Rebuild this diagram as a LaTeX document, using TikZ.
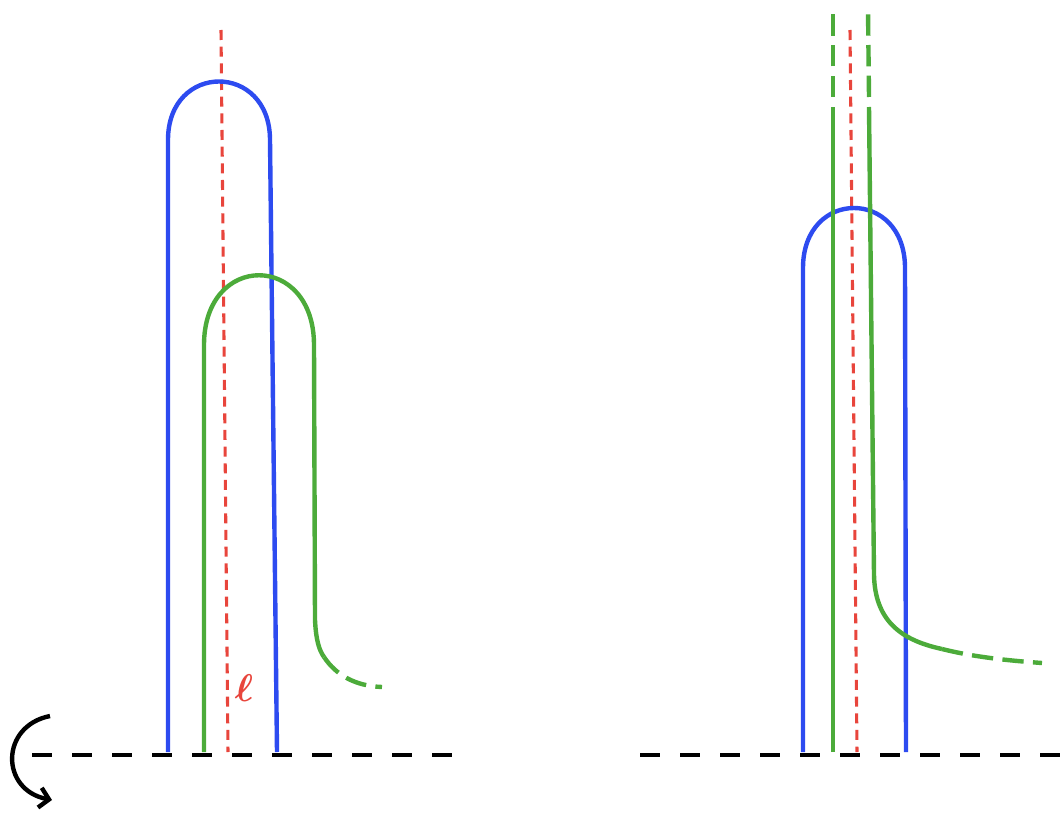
\documentclass[tikz,border=0pt]{standalone}
\usetikzlibrary{arrows.meta}
\definecolor{myblue}{RGB}{45,75,240}
\definecolor{mygreen}{RGB}{76,171,58}
\definecolor{myred}{RGB}{232,69,60}
\begin{document}
\begin{tikzpicture}[x=0.75pt,y=-0.75pt,
  bluel/.style={draw=myblue,line width=3.3pt},
  greenl/.style={draw=mygreen,line width=3.3pt},
  greend/.style={draw=mygreen,line width=3.3pt,dash pattern=on 16pt off 7pt},
  axisl/.style={draw=myred,line width=2.3pt,dash pattern=on 7.5pt off 5pt},
  groundl/.style={draw=black,line width=3.3pt,dash pattern=on 15pt off 15pt}]
\useasboundingbox (0,0) rectangle (1060,813);
% ground lines
\draw[groundl] (32,755) -- (458,755);
\draw[groundl] (640,755) -- (1060,755);
% rotation arrow
\draw[line width=3.3pt,-{Straight Barb[length=7pt,width=15pt,line width=3.3pt]}] (50,716) .. controls (0,726) and (0,790) .. (52,800);
% left figure
\draw[axisl] (221,30) -- (228,752);
\node[text=myred,inner sep=0pt,scale=2.9,transform shape,font=\mathversion{bold}] (ell) at (244,688) {$\ell$};
\draw[bluel] (168,752) -- (168,140) .. controls (168,62) and (270,62) .. (270,140) -- (277,752);
\draw[greenl] (204,752) -- (204,345) .. controls (204,252) and (314,252) .. (314,345) -- (315,620) .. controls (316,640) and (319,650) .. (324,657);
\draw[greend] (324,657) .. controls (336,675) and (355,686) .. (382,687);
% right figure
\draw[axisl] (850,30) -- (857,752);
\draw[bluel] (803,752) -- (803,268) .. controls (803,188) and (905,188) .. (905,268) -- (906,752);
\draw[greenl] (833,752) -- (833,107);
\draw[greend] (833,97) -- (833,14);
\draw[greenl] (869,107) -- (874,575) .. controls (875,620) and (900,640) .. (942,649);
\draw[greend] (942,649) .. controls (970,656) and (1000,660) .. (1042,663);
\draw[greend] (869,97) -- (868,10);
\end{tikzpicture}
\end{document}
